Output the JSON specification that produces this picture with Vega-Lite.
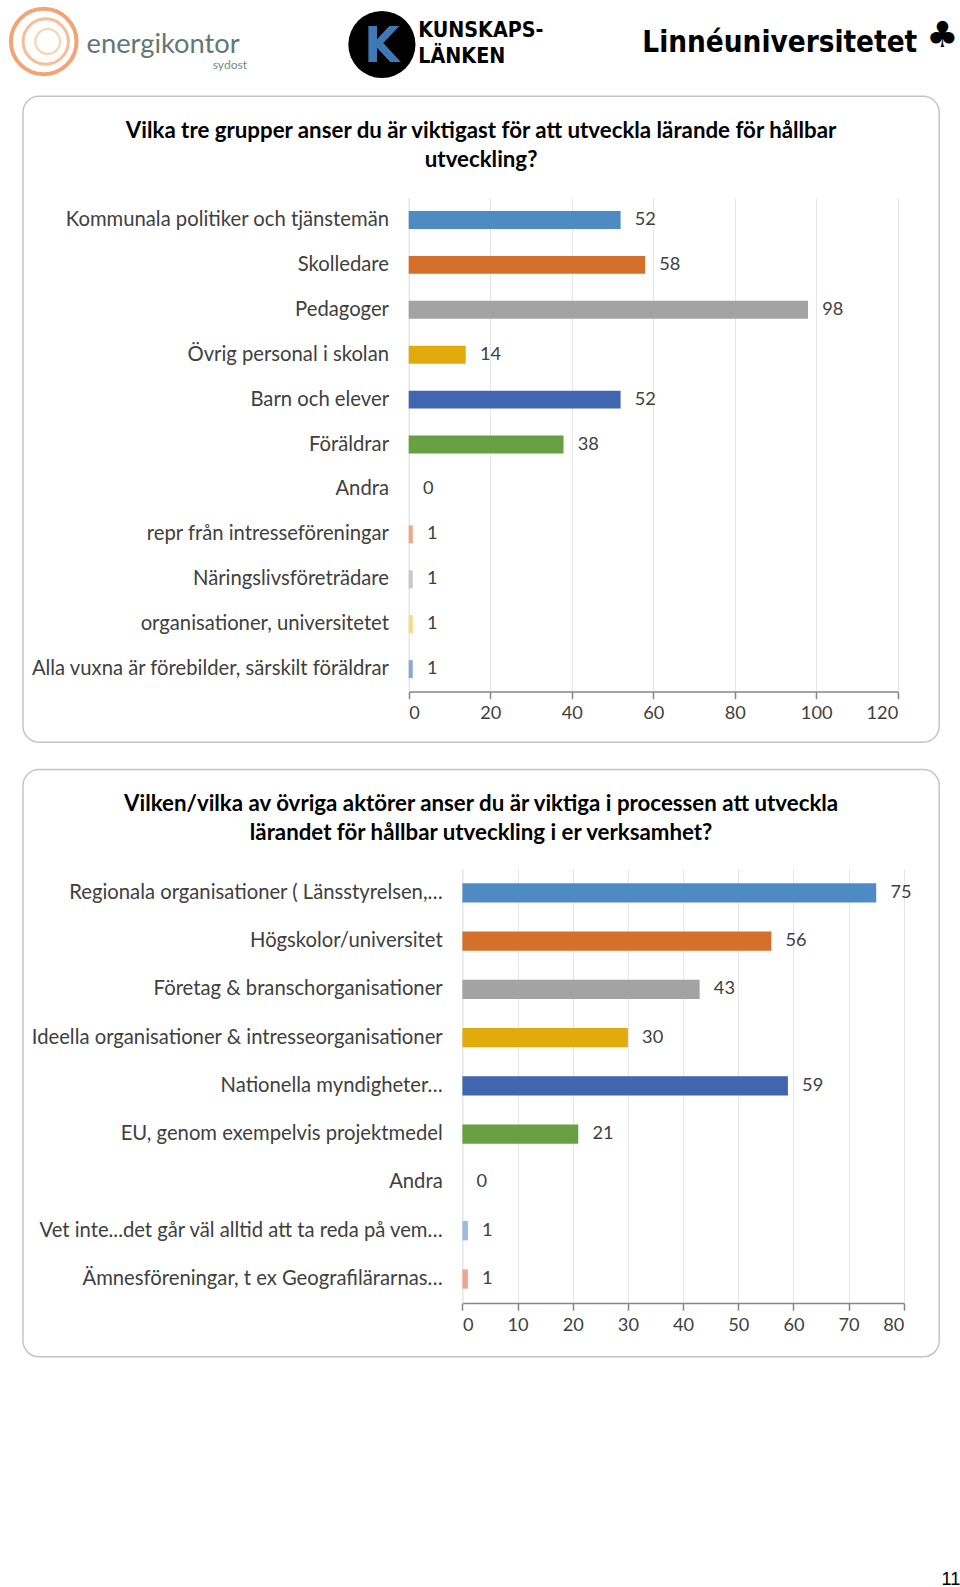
{
  "$schema": "https://vega.github.io/schema/vega-lite/v6.json",
  "background": "white",
  "padding": {"left": 2, "top": 0, "right": 0, "bottom": 0},
  "spacing": 27.3,
  "bounds": "flush",
  "title": {"text": "11", "orient": "bottom", "anchor": "end", "frame": "group", "offset": 213.6, "dx": 21.3, "fontSize": 18.2, "fontWeight": "normal", "font": "Liberation Sans", "color": "#000000"},
  "config": {
    "font": "Lato",
    "view": {"stroke": "#c4c4c4", "strokeWidth": 1.5, "cornerRadius": 16}
  },
  "datasets": {
    "logos": [
      {"logo": "L1", "part": "name", "txt": "energikontor"},
      {"logo": "L1", "part": "sub", "txt": "sydost"},
      {"logo": "L1", "part": "swirl", "txt": ""},
      {"logo": "L2", "part": "disc", "txt": ""},
      {"logo": "L2", "part": "k", "txt": "K"},
      {"logo": "L2", "part": "top", "txt": "KUNSKAPS-"},
      {"logo": "L2", "part": "bottom", "txt": "LÄNKEN"},
      {"logo": "L3", "part": "uni", "txt": "Linnéuniversitetet"},
      {"logo": "L3", "part": "tree", "txt": "♣"}
    ],
    "groups": [
      {"grupp": "Kommunala politiker och tjänstemän", "antal": 52},
      {"grupp": "Skolledare", "antal": 58},
      {"grupp": "Pedagoger", "antal": 98},
      {"grupp": "Övrig personal i skolan", "antal": 14},
      {"grupp": "Barn och elever", "antal": 52},
      {"grupp": "Föräldrar", "antal": 38},
      {"grupp": "Andra", "antal": 0},
      {"grupp": "repr från intresseföreningar", "antal": 1},
      {"grupp": "Näringslivsföreträdare", "antal": 1},
      {"grupp": "organisationer, universitetet", "antal": 1},
      {"grupp": "Alla vuxna är förebilder, särskilt föräldrar", "antal": 1}
    ],
    "actors": [
      {"aktor": "Regionala organisationer ( Länsstyrelsen,…", "antal": 75},
      {"aktor": "Högskolor/universitet", "antal": 56},
      {"aktor": "Företag & branschorganisationer", "antal": 43},
      {"aktor": "Ideella organisationer & intresseorganisationer", "antal": 30},
      {"aktor": "Nationella myndigheter…", "antal": 59},
      {"aktor": "EU, genom exempelvis projektmedel", "antal": 21},
      {"aktor": "Andra", "antal": 0},
      {"aktor": "Vet inte...det går väl alltid att ta reda på vem…", "antal": 1},
      {"aktor": "Ämnesföreningar, t ex Geografilärarnas…", "antal": 1}
    ]
  },
  "vconcat": [
    {
      "width": 916.2,
      "height": 64.8,
      "view": {"stroke": null},
      "data": {"name": "logos"},
      "encoding": {
        "x": {"field": "logo", "type": "nominal", "scale": {"type": "point", "padding": 0.3, "domain": ["L1", "L2", "L3"]}, "axis": null}
      },
      "layer": [
        {"transform": [{"filter": "datum.part == 'swirl'"}], "mark": {"type": "point", "shape": "circle", "filled": false, "stroke": "#EE7E3C", "strokeWidth": 4, "size": 4305, "xOffset": -85, "yOffset": 5.1}},
        {"transform": [{"filter": "datum.part == 'swirl'"}], "mark": {"type": "point", "shape": "circle", "filled": false, "stroke": "#F3A26B", "strokeWidth": 3, "size": 2050, "xOffset": -83, "yOffset": 5.1}},
        {"transform": [{"filter": "datum.part == 'swirl'"}], "mark": {"type": "point", "shape": "circle", "filled": false, "stroke": "#F6BE94", "strokeWidth": 2, "size": 615, "xOffset": -81, "yOffset": 5.1}},
        {"transform": [{"filter": "datum.part == 'name'"}], "mark": {"type": "text", "fontSize": 27.3, "color": "#5f7a70", "dx": 34.4, "dy": 8.1}, "encoding": {"text": {"field": "txt"}}},
        {"transform": [{"filter": "datum.part == 'sub'"}], "mark": {"type": "text", "fontSize": 12.1, "color": "#6f8f80", "dx": 101.2, "dy": 28.3}, "encoding": {"text": {"field": "txt"}}},
        {"transform": [{"filter": "datum.part == 'disc'"}], "mark": {"type": "point", "shape": "circle", "filled": true, "color": "#000000", "opacity": 1, "size": 4510, "xOffset": -99.2, "yOffset": 8.1}},
        {"transform": [{"filter": "datum.part == 'k'"}], "mark": {"type": "text", "fontSize": 50.6, "fontWeight": "bold", "color": "#3f78b5", "dx": -99.2, "dy": 10.1, "font": "DejaVu Sans Condensed"}, "encoding": {"text": {"field": "txt"}}},
        {"transform": [{"filter": "datum.part == 'top'"}], "mark": {"type": "text", "align": "left", "fontSize": 21.3, "fontWeight": "bold", "color": "#000000", "dx": -62.8, "dy": -5.1, "font": "DejaVu Sans Condensed"}, "encoding": {"text": {"field": "txt"}}},
        {"transform": [{"filter": "datum.part == 'bottom'"}], "mark": {"type": "text", "align": "left", "fontSize": 21.3, "fontWeight": "bold", "color": "#000000", "dx": -62.8, "dy": 20.2, "font": "DejaVu Sans Condensed"}, "encoding": {"text": {"field": "txt"}}},
        {"transform": [{"filter": "datum.part == 'uni'"}], "mark": {"type": "text", "fontSize": 29.4, "fontWeight": "bold", "color": "#000000", "dx": -53.7, "dy": 6.1, "font": "DejaVu Sans Condensed"}, "encoding": {"text": {"field": "txt"}}},
        {"transform": [{"filter": "datum.part == 'tree'"}], "mark": {"type": "text", "fontSize": 36, "color": "#000000", "dx": 108.8, "dy": 0, "font": "DejaVu Sans"}, "encoding": {"text": {"field": "txt"}}}
      ]
    },
    {
      "width": 916.2,
      "height": 645.9,
      "data": {"name": "groups"},
      "title": {"text": ["Vilka tre grupper anser du är viktigast för att utveckla lärande för hållbar", "utveckling?"], "fontSize": 22.3, "font": "Lato", "fontWeight": "bold", "color": "#000000", "anchor": "middle", "offset": -74.9, "lineHeight": 29.4},
      "resolve": {"scale": {"x": "independent"}, "axis": {"x": "independent"}},
      "encoding": {
        "y": {"field": "grupp", "type": "nominal", "sort": null, "scale": {"range": [101.2, 595.3], "paddingInner": 0.6, "paddingOuter": 0.3},
          "axis": {"title": null, "orient": "left", "offset": -385.7, "ticks": false, "domainColor": "#d9d9d9", "domainWidth": 1, "labelFontSize": 20.25, "labelFont": "Lato", "labelColor": "#404040", "labelPadding": 20.2, "labelLimit": 600, "grid": false}}
      },
      "layer": [
        {"mark": {"type": "bar"},
         "encoding": {
           "x": {"field": "antal", "type": "quantitative", "scale": {"domain": [0, 120], "range": [385.7, 874.7], "nice": false},
             "axis": {"title": null, "orient": "bottom", "offset": -50.6, "values": [0, 20, 40, 60, 80, 100, 120], "grid": false, "domainColor": "#868686", "domainWidth": 1.5, "tickColor": "#868686", "tickWidth": 1.5, "tickSize": 7.1, "labelFontSize": 18.2, "labelFont": "Lato", "labelColor": "#404040", "labelPadding": 6.1}},
           "color": {"field": "grupp", "type": "nominal", "legend": null,
           "scale": {"domain": ["Kommunala politiker och tjänstemän", "Skolledare", "Pedagoger", "Övrig personal i skolan", "Barn och elever", "Föräldrar", "Andra", "repr från intresseföreningar", "Näringslivsföreträdare", "organisationer, universitetet", "Alla vuxna är förebilder, särskilt föräldrar"],
                     "range": ["#4E8AC4", "#D4702B", "#A3A3A3", "#E2AB0C", "#3F66AE", "#66A043", "#9DB9E0", "#EFA68C", "#C8C8C8", "#FCD688", "#8EA6D5"]}}}},
        {"mark": {"type": "text", "align": "left", "baseline": "middle", "dx": 14.2, "fontSize": 18.2, "font": "Lato", "color": "#404040"},
         "encoding": {
           "x": {"field": "antal", "type": "quantitative", "scale": {"domain": [0, 120], "range": [385.7, 874.7], "nice": false},
             "axis": {"title": null, "orient": "top", "offset": 0, "values": [20, 40, 60, 80, 100, 120], "grid": true, "gridColor": "#e6e6e6", "gridWidth": 1, "domain": false, "ticks": false, "labels": false}},
           "text": {"field": "antal", "type": "quantitative"}}}
      ]
    },
    {
      "width": 916.2,
      "height": 587.2,
      "data": {"name": "actors"},
      "title": {"text": ["Vilken/vilka av övriga aktörer anser du är viktiga i processen att utveckla", "lärandet för hållbar utveckling i er verksamhet?"], "fontSize": 22.3, "font": "Lato", "fontWeight": "bold", "color": "#000000", "anchor": "middle", "offset": -74.9, "lineHeight": 29.4},
      "resolve": {"scale": {"x": "independent"}, "axis": {"x": "independent"}},
      "encoding": {
        "y": {"field": "aktor", "type": "nominal", "sort": null, "scale": {"range": [99.2, 533.5], "paddingInner": 0.6, "paddingOuter": 0.3},
          "axis": {"title": null, "orient": "left", "offset": -439.4, "ticks": false, "domainColor": "#d9d9d9", "domainWidth": 1, "labelFontSize": 20.25, "labelFont": "Lato", "labelColor": "#404040", "labelPadding": 20.2, "labelLimit": 600, "grid": false}}
      },
      "layer": [
        {"mark": {"type": "bar"},
         "encoding": {
           "x": {"field": "antal", "type": "quantitative", "scale": {"domain": [0, 80], "range": [439.4, 880.8], "nice": false},
             "axis": {"title": null, "orient": "bottom", "offset": -53.7, "values": [0, 10, 20, 30, 40, 50, 60, 70, 80], "grid": false, "domainColor": "#868686", "domainWidth": 1.5, "tickColor": "#868686", "tickWidth": 1.5, "tickSize": 7.1, "labelFontSize": 18.2, "labelFont": "Lato", "labelColor": "#404040", "labelPadding": 6.1}},
           "color": {"field": "aktor", "type": "nominal", "legend": null,
           "scale": {"domain": ["Regionala organisationer ( Länsstyrelsen,…", "Högskolor/universitet", "Företag & branschorganisationer", "Ideella organisationer & intresseorganisationer", "Nationella myndigheter…", "EU, genom exempelvis projektmedel", "Andra", "Vet inte...det går väl alltid att ta reda på vem…", "Ämnesföreningar, t ex Geografilärarnas…"],
                     "range": ["#4E8AC4", "#D4702B", "#A3A3A3", "#E2AB0C", "#3F66AE", "#66A043", "#9DB9E0", "#EFA68C", "#C8C8C8"]}}}},
        {"mark": {"type": "text", "align": "left", "baseline": "middle", "dx": 14.2, "fontSize": 18.2, "font": "Lato", "color": "#404040"},
         "encoding": {
           "x": {"field": "antal", "type": "quantitative", "scale": {"domain": [0, 80], "range": [439.4, 880.8], "nice": false},
             "axis": {"title": null, "orient": "top", "offset": 0, "values": [10, 20, 30, 40, 50, 60, 70, 80], "grid": true, "gridColor": "#e6e6e6", "gridWidth": 1, "domain": false, "ticks": false, "labels": false}},
           "text": {"field": "antal", "type": "quantitative"}}}
      ]
    }
  ]
}
